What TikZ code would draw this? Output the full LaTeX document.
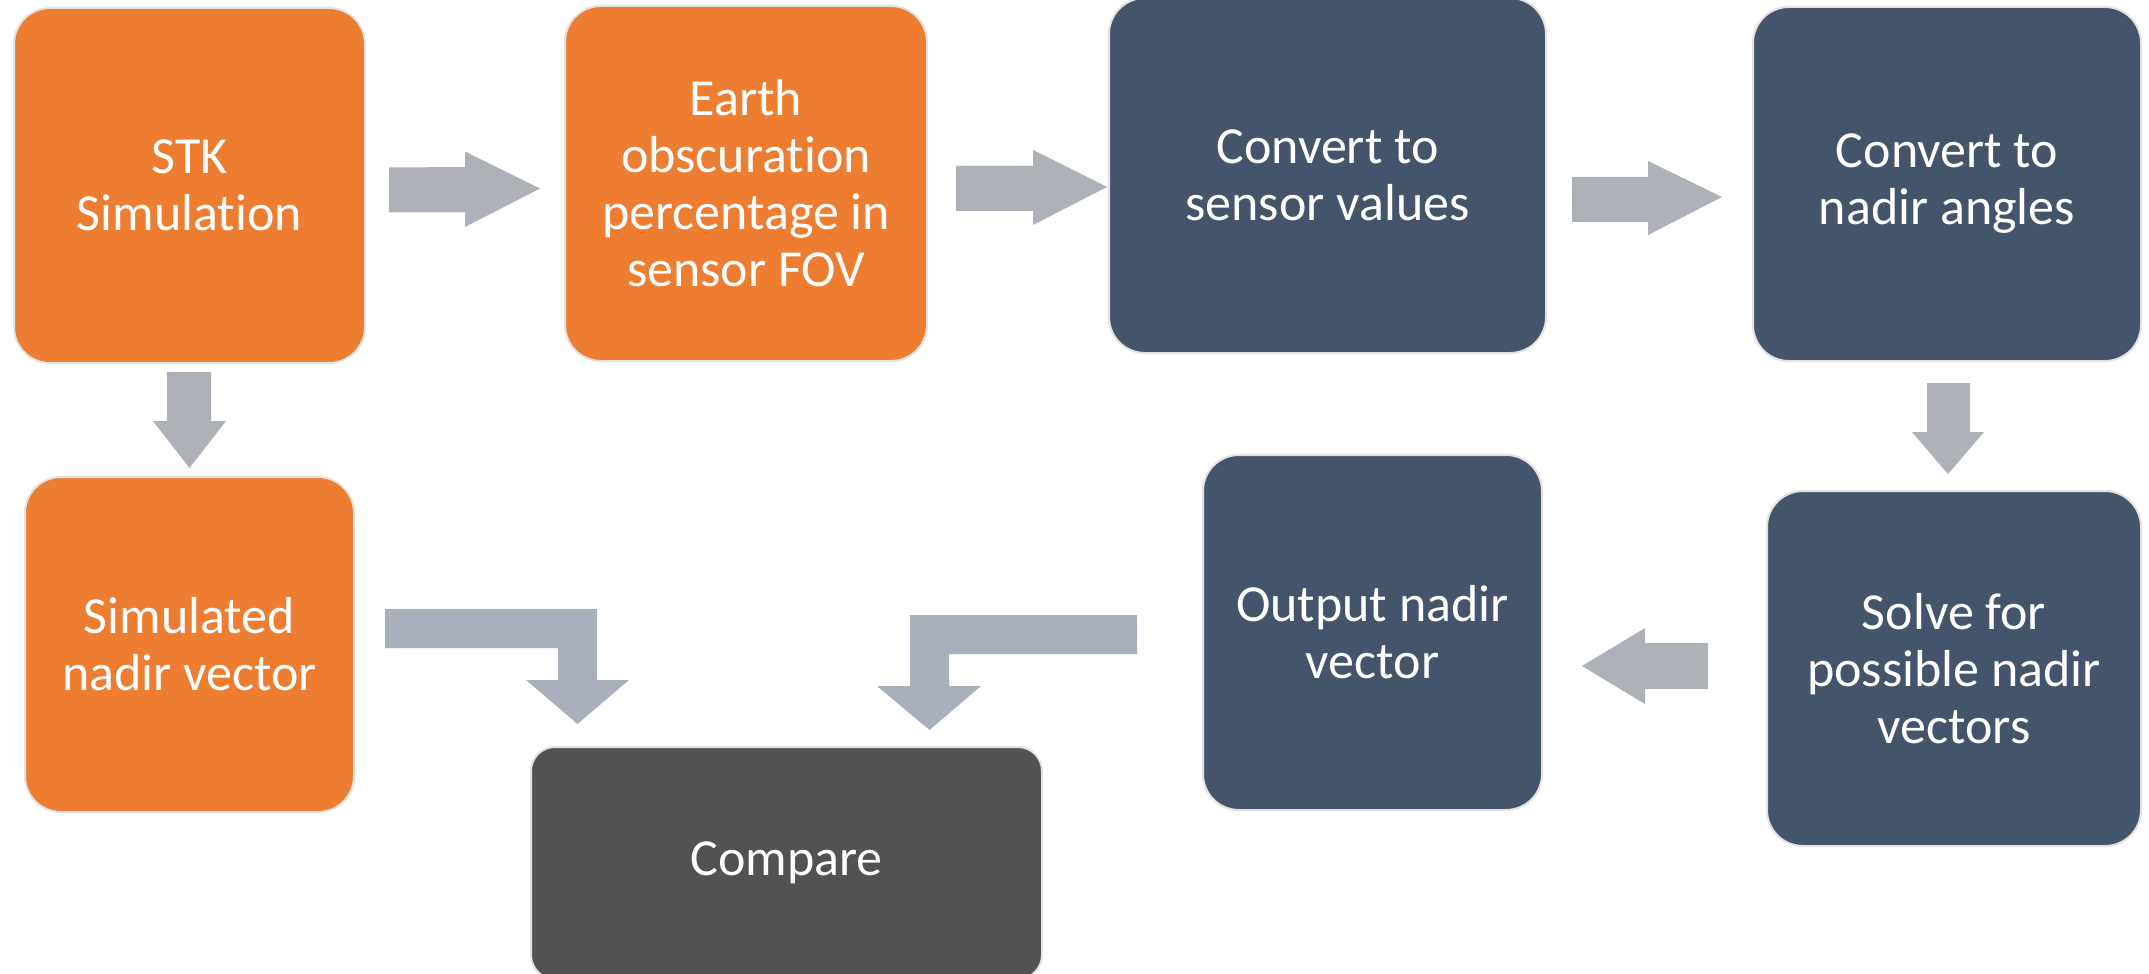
\documentclass[tikz,border=0pt]{standalone}
\usepackage{fontspec}
\setmainfont{Carlito}[Ligatures=NoCommon]
\definecolor{orng}{HTML}{ED7D31}
\definecolor{slate}{HTML}{44546A}
\definecolor{dgray}{HTML}{525252}
\definecolor{arr}{HTML}{AEB1B8}
\definecolor{arrb}{HTML}{AAAFBC}
\definecolor{rim}{HTML}{E2E2E2}
\tikzset{
  box/.style={rounded corners=18pt, draw=rim, line width=1pt, text=white, align=center,
    inner sep=0pt, font=\fontsize{26}{28.5}\selectfont},
  orangebox/.style={box, fill=orng},
  slatebox/.style={box, fill=slate},
  graybox/.style={box, fill=dgray, rounded corners=12pt},
  blockarrow/.style={fill=arr, draw=none},
  bentarrow/.style={fill=arrb, draw=none}
}
\begin{document}
\begin{tikzpicture}[x=0.5pt, y=-0.5pt]
\path[use as bounding box] (0,0) rectangle (2149,974);
\clip (0,0) rectangle (2149,974);
\fill[white] (0,0) rectangle (2149,974);

% boxes
\node[orangebox, minimum width=175.5pt, minimum height=177.5pt] (stk) at (189.5,185.5) {STK\\Simulation};
\node[orangebox, minimum width=181pt, minimum height=177.5pt] (earth) at (746,183.5) {Earth\\obscuration\\percentage in\\sensor FOV};
\node[slatebox, minimum width=218.5pt, minimum height=177.5pt] (sensor) at (1327.5,175.5) {Convert to\\sensor values};
\node[slatebox, minimum width=194pt, minimum height=177pt] (angles) at (1947,184) {Convert to\\nadir angles};
\node[orangebox, minimum width=164.5pt, minimum height=167.5pt] (simvec) at (189.5,644.5) {Simulated\\nadir vector};
\node[slatebox, minimum width=169.5pt, minimum height=177.5pt] (outvec) at (1372.5,632.5) {Output nadir\\vector};
\node[slatebox, minimum width=187pt, minimum height=177.5pt] (solve) at (1954,668.5) {Solve for\\possible nadir\\vectors};
\node[graybox, minimum width=255.5pt, minimum height=116pt] (compare) at (786.5,863) {Compare};

% block arrows
\fill[blockarrow] (389,167.5) -- (465,167) -- (465,151.5) -- (540,188.5) -- (465,227) -- (465,212.5) -- (389,212.5) -- cycle;
\fill[blockarrow] (956,166) -- (1033,166) -- (1033,150) -- (1107,187) -- (1033,225) -- (1033,211) -- (956,211) -- cycle;
\fill[blockarrow] (1572,177) -- (1648,177) -- (1648,161) -- (1722,197) -- (1648,235) -- (1648,222) -- (1572,222) -- cycle;
\fill[blockarrow] (167,372) -- (211,372) -- (211,421) -- (226,421) -- (189.5,468) -- (153,421) -- (167,421) -- cycle;
\fill[blockarrow] (1927,383) -- (1970,383) -- (1970,432) -- (1984,432) -- (1948,474) -- (1912,432) -- (1927,432) -- cycle;
\fill[blockarrow] (1708,643) -- (1645,643) -- (1645,628) -- (1582,666) -- (1645,704) -- (1645,689) -- (1708,689) -- cycle;
\fill[bentarrow] (385,609) -- (597,609) -- (597,680) -- (629,680) -- (577.5,724) -- (526,680) -- (558,680) -- (558,648) -- (385,648) -- cycle;
\fill[bentarrow] (1137,615) -- (910,615) -- (910,686) -- (877,686) -- (929.5,730) -- (981,686) -- (949,686) -- (949,654) -- (1137,654) -- cycle;
\end{tikzpicture}
\end{document}
